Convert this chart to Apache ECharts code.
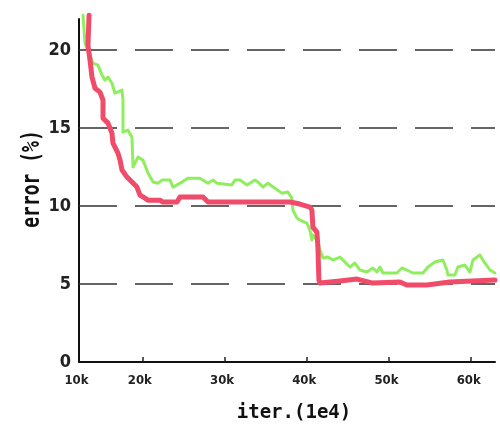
<!DOCTYPE html>
<html>
<head>
<meta charset="utf-8">
<script src="https://cdn.jsdelivr.net/npm/echarts@6/dist/echarts.min.js"></script>
<style>
html,body{margin:0;padding:0;background:#fff;}
#chart{width:500px;height:431px;}
</style>
</head>
<body>
<div id="chart"></div>
<script>
// x tick positions (axis values) and their printed labels, as shown in the reference
var xTickValues = [12300, 20000, 30000, 40000, 50000, 60000];
var xTickLabels = ['10k', '20k', '30k', '40k', '50k', '60k'];
var yTickValues = [0, 5, 10, 15, 20];
var yGridValues = [5, 10, 15, 20];

// red series: [iteration, error %]
var redX = [13520,13390,13640,13880,14250,14850,15220,15220,15830,16310,16430,17040,17290,17530,18140,18740,19350,19720,20330,20690,22150,22510,24220,24580,27380,27990,33090,37960,39170,40390,40630,40750,41240,41360,41480,41610,44040,46100,48050,51330,52180,54620,57410,62890];
var redY = [22.24,20.3,19.36,18.27,17.56,17.31,16.79,15.64,15.32,14.68,14.04,13.40,12.95,12.31,11.86,11.54,11.22,10.71,10.51,10.38,10.38,10.26,10.26,10.58,10.58,10.26,10.26,10.26,10.13,9.94,9.74,8.65,8.33,7.37,5.26,5.06,5.19,5.32,5.06,5.13,4.94,4.94,5.13,5.26];

// green series: [iteration, error %]
var greenX = [12790,13030,13390,14000,14610,15100,15460,15830,16310,16680,17530,17650,17650,18260,18740,18870,19470,20080,20690,21300,21910,22390,23370,23730,24820,25550,27010,27990,28590,29080,30900,31270,31880,32730,33700,34070,34670,35280,36130,36980,37710,38200,38320,38810,39170,40020,40390,40630,40750,41240,41610,41970,42580,43190,44040,44650,45250,45860,46470,47320,48050,48540,48900,49270,50970,51580,52180,52910,54130,54740,55590,56560,57050,57170,58020,58390,59240,59850,60210,61060,61430,62280,62890];
var greenY = [22.24,20.45,20.0,19.17,19.04,18.40,18.08,18.27,17.88,17.24,17.44,16.79,14.74,14.87,14.42,12.5,13.14,12.95,12.12,11.54,11.47,11.67,11.67,11.22,11.54,11.79,11.79,11.47,11.67,11.47,11.35,11.67,11.67,11.35,11.67,11.54,11.22,11.47,11.15,10.83,10.90,10.51,9.74,9.23,9.10,8.91,8.46,7.82,8.14,7.82,7.18,6.67,6.73,6.54,6.73,6.41,6.09,6.35,5.90,5.77,6.03,5.77,6.09,5.71,5.71,6.03,5.90,5.71,5.71,6.09,6.41,6.54,5.90,5.58,5.58,6.09,6.22,5.77,6.54,6.86,6.54,5.90,5.71];

var yTitle = 'error (%)';
var xTitle = 'iter.(1e4)';

function zip(xs, ys){ return xs.map(function(x,i){ return [x, ys[i]]; }); }

var labelFont = "'DejaVu Sans Condensed', 'Liberation Sans', 'DejaVu Sans', sans-serif";

var chart = echarts.init(document.getElementById('chart'), null, {renderer:'canvas'});
chart.setOption({
  animation: false,
  backgroundColor: '#ffffff',
  grid: { left: 79, right: 5, top: 19, bottom: 69, containLabel: false, outerBoundsMode: 'none' },
  graphic: [
    {
      type: 'text',
      x: 32, y: 179,
      rotation: Math.PI / 2,
      scaleX: 1, scaleY: 1.4,
      silent: true,
      style: {
        text: yTitle,
        fontFamily: 'DejaVu Sans Mono', fontWeight: 'bold', fontSize: 18,
        fill: '#111',
        textAlign: 'center', textVerticalAlign: 'middle',
        align: 'center', verticalAlign: 'middle'
      }
    }
  ],
  xAxis: {
    type: 'value',
    min: 12300,
    max: 62900,
    name: xTitle,
    nameLocation: 'middle',
    nameGap: 42,
    nameTextStyle: { fontFamily: 'DejaVu Sans Mono', fontWeight: 'bold', fontSize: 19, color: '#111', padding: [0,0,0,14] },
    axisLine: { show: true, lineStyle: { color: '#111', width: 2 } },
    axisTick: { show: true, inside: true, length: 5, lineStyle: { color: '#222', width: 1.5 }, customValues: xTickValues.slice(1) },
    axisLabel: {
      show: true,
      customValues: xTickValues,
      margin: 12,
      fontFamily: labelFont,
      fontWeight: 'bold',
      fontSize: 13,
      color: '#222',
      padding: [0,5,0,0],
      formatter: function(v){ var i = xTickValues.indexOf(v); return i >= 0 ? xTickLabels[i] : ''; }
    },
    splitLine: { show: false }
  },
  yAxis: {
    type: 'value',
    min: 0,
    max: 22,
    axisLine: { show: true, lineStyle: { color: '#111', width: 2 } },
    axisTick: { show: false },
    axisLabel: {
      show: true,
      customValues: yTickValues,
      margin: 8,
      fontFamily: labelFont,
      fontWeight: 'bold',
      fontSize: 18,
      color: '#222'
    },
    splitLine: { show: false }
  },
  series: [
    {
      name: 'green', type: 'line', data: zip(greenX, greenY), showSymbol: false, clip: false,
      lineStyle: { color: '#8fee5e', width: 3, join: 'round', cap: 'round' }, z: 3,
      markLine: {
        silent: true, symbol: ['none','none'], label: { show: false }, animation: false,
        lineStyle: { color: '#333', width: 1.6, type: [38, 18] },
        data: yGridValues.map(function(v){ return { yAxis: v }; }),
        z: 1
      }
    },
    {
      name: 'red', type: 'line', data: zip(redX, redY), showSymbol: false, clip: false,
      lineStyle: { color: '#f04c6a', width: 5, join: 'round', cap: 'round' }, z: 4
    }
  ]
});
</script>
</body>
</html>
